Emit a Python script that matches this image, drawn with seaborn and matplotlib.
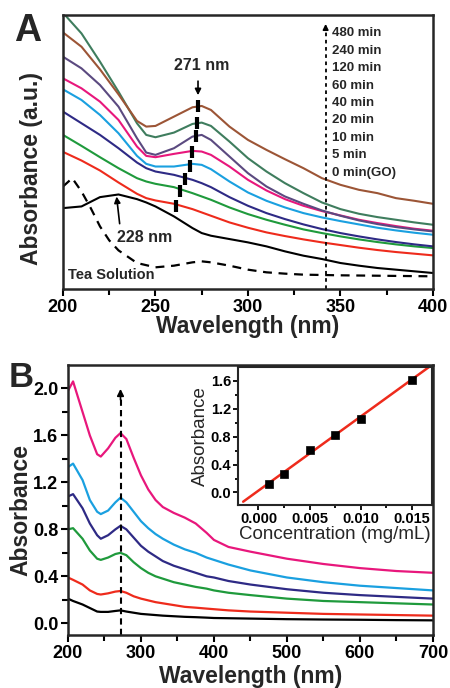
import numpy as np
import pandas as pd
import matplotlib
matplotlib.use('Agg')
import matplotlib.pyplot as plt
import seaborn as sns

# ---- panel A: spectra vs time (arbitrary units) ----
wl_a = [200, 210, 220, 230, 240, 245, 250, 260, 270, 275, 280, 290, 300,
        310, 320, 330, 340, 350, 360, 370, 380, 390, 400]
go_0 = [2.43, 2.48, 2.76, 2.84, 2.70, 2.60, 2.48, 2.18, 1.83, 1.68, 1.60, 1.50, 1.40,
        1.28, 1.13, 1.00, 0.90, 0.78, 0.70, 0.63, 0.58, 0.53, 0.48]
t_5 = [4.12, 3.86, 3.56, 3.20, 2.86, 2.73, 2.66, 2.56, 2.40, 2.30, 2.20, 2.00, 1.84,
       1.70, 1.59, 1.49, 1.40, 1.32, 1.24, 1.17, 1.11, 1.06, 1.01]
t_10 = [4.63, 4.30, 3.96, 3.63, 3.33, 3.23, 3.16, 3.06, 2.88, 2.78, 2.68, 2.45, 2.25,
        2.08, 1.93, 1.79, 1.68, 1.58, 1.49, 1.41, 1.34, 1.28, 1.23]
t_20 = [5.33, 4.98, 4.63, 4.23, 3.80, 3.63, 3.53, 3.43, 3.28, 3.18, 3.06, 2.76, 2.50,
        2.28, 2.10, 1.94, 1.80, 1.68, 1.58, 1.49, 1.41, 1.34, 1.28]
t_40 = [6.00, 5.68, 5.23, 4.68, 4.00, 3.76, 3.68, 3.68, 3.76, 3.73, 3.60, 3.23, 2.90,
        2.65, 2.45, 2.28, 2.15, 2.04, 1.94, 1.84, 1.76, 1.69, 1.63]
t_60 = [6.33, 6.03, 5.63, 5.08, 4.28, 4.00, 3.96, 4.06, 4.15, 4.13, 4.03, 3.68, 3.28,
        2.96, 2.70, 2.50, 2.34, 2.21, 2.08, 1.98, 1.89, 1.81, 1.75]
t_120 = [6.98, 6.63, 6.13, 5.48, 4.53, 4.10, 4.03, 4.23, 4.58, 4.63, 4.48, 3.98, 3.48,
         3.08, 2.78, 2.56, 2.36, 2.20, 2.06, 1.95, 1.86, 1.79, 1.73]
t_240 = [8.30, 7.68, 6.83, 5.93, 4.98, 4.63, 4.56, 4.70, 4.96, 5.00, 4.90, 4.43, 3.93,
         3.53, 3.18, 2.88, 2.60, 2.40, 2.26, 2.16, 2.08, 2.00, 1.93]
t_480 = [7.71, 7.28, 6.60, 5.85, 5.05, 4.88, 4.90, 5.18, 5.46, 5.50, 5.38, 4.88, 4.48,
         4.18, 3.90, 3.63, 3.33, 3.13, 2.98, 2.88, 2.73, 2.65, 2.56]

wl_tea = [200, 205, 210, 215, 220, 225, 230, 240, 250, 260, 270, 275, 280, 290,
          300, 310, 320, 330, 350, 400]
tea = [3.08, 3.33, 2.93, 2.43, 1.88, 1.46, 1.16, 0.78, 0.65, 0.70, 0.80, 0.83, 0.80,
       0.70, 0.58, 0.50, 0.46, 0.43, 0.41, 0.38]

series_a = [go_0, t_5, t_10, t_20, t_40, t_60, t_120, t_240, t_480]
colors_a = ['black', '#ee2b1c', '#1f9a3c', '#2e2a85', '#1aa0e0', '#e8177c',
            '#5b4a80', '#3f7d5e', '#9c5536']
time_labels = ['480 min', '240 min', '120 min', '60 min', '40 min', '20 min',
               '10 min', '5 min', '0 min(GO)']

# peak marks (5 min ... 480 min)
peak_wl = [261, 263, 266, 268.5, 270, 272, 272.5, 273]
peak_val = [2.50, 2.95, 3.30, 3.71, 4.13, 4.60, 5.00, 5.50]

# ---- panel B: concentration series ----
wl_b = [200, 207, 220, 230, 240, 245, 255, 265, 272, 280, 290, 300, 310, 320, 330,
        345, 360, 375, 390, 400, 420, 450, 500, 550, 600, 650, 700]
c1 = [0.21, 0.19, 0.16, 0.13, 0.10, 0.097, 0.097, 0.105, 0.11, 0.10, 0.09, 0.08, 0.075,
      0.07, 0.065, 0.06, 0.055, 0.052, 0.048, 0.045, 0.043, 0.04, 0.035, 0.032, 0.03,
      0.027, 0.025]
c2 = [0.39, 0.37, 0.33, 0.28, 0.25, 0.245, 0.255, 0.27, 0.275, 0.26, 0.23, 0.21, 0.195,
      0.18, 0.17, 0.155, 0.14, 0.133, 0.125, 0.12, 0.11, 0.10, 0.09, 0.08, 0.075,
      0.07, 0.065]
c3 = [0.80, 0.81, 0.72, 0.62, 0.55, 0.54, 0.56, 0.59, 0.60, 0.58, 0.52, 0.47, 0.43,
      0.40, 0.38, 0.35, 0.33, 0.31, 0.295, 0.28, 0.26, 0.24, 0.21, 0.19, 0.18,
      0.17, 0.16]
c4 = [1.08, 1.10, 0.98, 0.85, 0.75, 0.72, 0.75, 0.80, 0.83, 0.80, 0.73, 0.66, 0.61,
      0.57, 0.53, 0.49, 0.46, 0.43, 0.40, 0.39, 0.36, 0.33, 0.29, 0.26, 0.24,
      0.225, 0.21]
c5 = [1.33, 1.36, 1.22, 1.05, 0.95, 0.93, 0.96, 1.03, 1.07, 1.03, 0.95, 0.87, 0.81,
      0.76, 0.72, 0.67, 0.63, 0.60, 0.56, 0.54, 0.50, 0.45, 0.39, 0.35, 0.32,
      0.30, 0.28]
c6 = [1.98, 2.06, 1.80, 1.60, 1.44, 1.42, 1.49, 1.58, 1.62, 1.57, 1.41, 1.26, 1.14,
      1.05, 0.99, 0.94, 0.90, 0.85, 0.77, 0.71, 0.65, 0.61, 0.55, 0.505, 0.47,
      0.445, 0.43]
series_b = [c1, c2, c3, c4, c5, c6]
colors_b = ['black', '#ee2b1c', '#1f9a3c', '#2e2a85', '#1aa0e0', '#e8177c']

# inset calibration
conc = [0.001, 0.0025, 0.005, 0.0075, 0.010, 0.015]
absb = [0.12, 0.27, 0.61, 0.83, 1.06, 1.62]

sns.set_style('ticks')
plt.rcParams['font.family'] = ['Liberation Sans', 'DejaVu Sans']
plt.rcParams['font.weight'] = 'bold'
plt.rcParams['axes.labelweight'] = 'bold'
plt.rcParams['axes.linewidth'] = 1.8
for k in ['xtick', 'ytick']:
    plt.rcParams[k + '.major.width'] = 1.5
    plt.rcParams[k + '.minor.width'] = 1.5
    plt.rcParams[k + '.major.size'] = 5
    plt.rcParams[k + '.minor.size'] = 4
    plt.rcParams[k + '.color'] = 'black'

fig = plt.figure(figsize=(4.5, 6.88), dpi=100)

# ================= A =================
axA = fig.add_axes([0.140, 0.580, 0.822, 0.398])
sns.lineplot(x=wl_tea, y=tea, ax=axA, color='black', lw=1.6, linestyle=(0, (4, 3)))
for vals, col in zip(series_a, colors_a):
    sns.lineplot(x=wl_a, y=vals, ax=axA, color=col, lw=1.5)
axA.plot(peak_wl, peak_val, ls='none', marker='|', ms=8, mew=3, color='black')

axA.set_xlim(200, 400)
axA.set_ylim(0, 8.23)
axA.set_yticks([])
axA.set_xticks([200, 250, 300, 350, 400])
axA.set_xticks([225, 275, 325, 375], minor=True)
axA.tick_params(labelsize=13, pad=2)
axA.set_xlabel('Wavelength (nm)', fontsize=16.5)
axA.xaxis.set_label_coords(0.5, -0.095)
axA.set_ylabel('Absorbance (a.u.)', fontsize=16.5)
axA.yaxis.set_label_coords(-0.055, 0.44)

axA.plot([342, 342], [0, 7.85], color='black', lw=1.3, ls=(0, (2, 2)))
axA.annotate('', xy=(342, 8.05), xytext=(342, 7.75),
             arrowprops=dict(arrowstyle='-|>', color='black', lw=1.2,
                             mutation_scale=8))
for i, lab in enumerate(time_labels):
    axA.text(345.5, 7.69 - i * 0.525, lab, fontsize=9.5, va='center', ha='left')

axA.annotate('', xy=(273, 5.74), xytext=(273, 6.33),
             arrowprops=dict(arrowstyle='-|>', color='black', lw=1.2, mutation_scale=9))
axA.text(275, 6.73, '271 nm', fontsize=11.5, ha='center', va='center')
axA.annotate('', xy=(228.8, 2.86), xytext=(230.8, 1.88),
             arrowprops=dict(arrowstyle='-|>', color='black', lw=1.2, mutation_scale=9))
axA.text(244, 1.56, '228 nm', fontsize=11.5, ha='center', va='center')
axA.text(202.5, 0.42, 'Tea Solution', fontsize=10.5, ha='left', va='center')

fig.text(0.062, 0.955, 'A', fontsize=27, ha='center', va='center')

# ================= B =================
axB = fig.add_axes([0.151, 0.077, 0.811, 0.3925])
for vals, col in zip(series_b, colors_b):
    sns.lineplot(x=wl_b, y=vals, ax=axB, color=col, lw=1.6)
axB.plot([272, 272], [-0.1, 1.92], color='black', lw=1.5, ls=(0, (3, 2)))
axB.annotate('', xy=(272, 2.02), xytext=(272, 1.88),
             arrowprops=dict(arrowstyle='-|>', color='black', lw=1.2, mutation_scale=10))
axB.set_xlim(200, 700)
axB.set_ylim(-0.1, 2.2)
axB.set_xticks([200, 300, 400, 500, 600, 700])
axB.set_xticks([250, 350, 450, 550, 650], minor=True)
axB.set_yticks([0.0, 0.4, 0.8, 1.2, 1.6, 2.0])
axB.set_yticks([0.2, 0.6, 1.0, 1.4, 1.8], minor=True)
axB.set_yticklabels(['%.1f' % v for v in [0.0, 0.4, 0.8, 1.2, 1.6, 2.0]])
axB.tick_params(labelsize=13, pad=2)
axB.set_xlabel('Wavelength (nm)', fontsize=16.5)
axB.xaxis.set_label_coords(0.5, -0.11)
axB.set_ylabel('Absorbance', fontsize=16.5)
axB.yaxis.set_label_coords(-0.096, 0.463)

fig.text(0.047, 0.451, 'B', fontsize=25, ha='center', va='center')

# ---- inset ----
axI = fig.add_axes([0.529, 0.266, 0.431, 0.2006])
slope, icpt = np.polyfit(conc, absb, 1)
fit_x = np.array([-0.0015, 0.0168])
sns.lineplot(x=fit_x, y=slope * fit_x + icpt, ax=axI, color='#ee2b1c', lw=1.8)
sns.scatterplot(x=conc, y=absb, ax=axI, marker='s', color='black', s=36,
                edgecolor='black', zorder=3)
axI.set_xlim(-0.002, 0.017)
axI.set_ylim(-0.18, 1.8)
axI.set_xticks([0.0, 0.005, 0.010, 0.015])
axI.set_xticklabels(['0.000', '0.005', '0.010', '0.015'])
axI.set_xticks([0.0025, 0.0075, 0.0125], minor=True)
axI.set_yticks([0.0, 0.4, 0.8, 1.2, 1.6])
axI.set_yticklabels(['0.0', '0.4', '0.8', '1.2', '1.6'])
axI.set_yticks([0.2, 0.6, 1.0, 1.4], minor=True)
axI.tick_params(labelsize=10.5, pad=1.5, length=3.5, width=1.3)
axI.tick_params(which='minor', length=2.5, width=1.3)
for s in axI.spines.values():
    s.set_linewidth(1.5)
axI.set_xlabel('Concentration (mg/mL)', fontsize=13.5, fontweight='normal', labelpad=0)
axI.set_ylabel('Absorbance', fontsize=13.5, fontweight='normal', labelpad=1)

fig.savefig('out.png', dpi=100)
